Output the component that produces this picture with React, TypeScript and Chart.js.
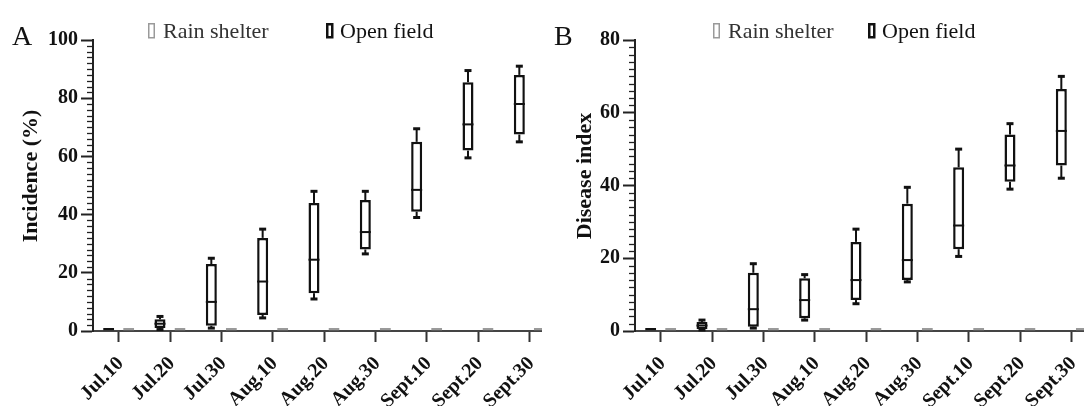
import React, { useEffect, useRef } from "react";
import { Chart, registerables } from "chart.js";

Chart.register(...registerables);

const categories = ["Jul.10", "Jul.20", "Jul.30", "Aug.10", "Aug.20", "Aug.30", "Sept.10", "Sept.20", "Sept.30"];
const yTicksA = [0, 20, 40, 60, 80, 100];
const yTicksB = [0, 20, 40, 60, 80];

// Panel A: Incidence (%), open field
const incOpenMin = [0, 0.5, 1, 4.5, 11, 26.5, 39, 59.5, 65];
const incOpenQ1 = [0, 1, 1.8, 5.5, 13, 28, 41, 62, 67.5];
const incOpenMed = [0, 2.5, 10, 17, 24.5, 34, 48.5, 71, 78];
const incOpenQ3 = [0, 4, 23, 32, 44, 45, 65, 85.5, 88];
const incOpenMax = [0, 5, 25, 35, 48, 48, 69.5, 89.5, 91];
// Panel A: rain shelter (all zero)
const incRain = [0, 0, 0, 0, 0, 0, 0, 0, 0];

// Panel B: Disease index, open field
const disOpenMin = [0, 0.3, 0.8, 3, 7.5, 13.5, 20.5, 39, 42];
const disOpenQ1 = [0, 0.5, 1.2, 3.5, 8.5, 14, 22.5, 41, 45.5];
const disOpenMed = [0, 1.5, 6, 8.5, 14, 19.5, 29, 45.5, 55];
const disOpenQ3 = [0, 2.5, 16, 14.5, 24.5, 35, 45, 54, 66.5];
const disOpenMax = [0, 3, 18.5, 15.5, 28, 39.5, 50, 57, 70];
// Panel B: rain shelter (all zero)
const disRain = [0, 0, 0, 0, 0, 0, 0, 0, 0];

const FONT = '"Liberation Serif", "Times New Roman", serif';
const BLACK = "#111111";
const GRAY = "#9a9a9a";
const CW = 560; // canvas width (panel is cropped at 542)
const PW = 542; // visible panel width
const H = 440;
const LEFT = 93;
const TOP = 40;
const BOTTOM = 331;

type Panel = {
  letter: string;
  title: string;
  yTicks: number[];
  min: number[]; q1: number[]; med: number[]; q3: number[]; max: number[];
  rain: number[];
  titleX: number;
  legendRainX: number;
  legendOpenX: number;
};

const panels: Panel[] = [
  {
    letter: "A", title: "Incidence (%)", yTicks: yTicksA,
    min: incOpenMin, q1: incOpenQ1, med: incOpenMed, q3: incOpenQ3, max: incOpenMax,
    rain: incRain, titleX: 37, legendRainX: 148, legendOpenX: 326,
  },
  {
    letter: "B", title: "Disease index", yTicks: yTicksB,
    min: disOpenMin, q1: disOpenQ1, med: disOpenMed, q3: disOpenQ3, max: disOpenMax,
    rain: disRain, titleX: 49, legendRainX: 171, legendOpenX: 326,
  },
];

function makeConfig(p: Panel): any {
  const yMax = p.yTicks[p.yTicks.length - 1];
  const boxPlugin = {
    id: "boxDecor" + p.letter,
    afterDatasetsDraw(chart: any) {
      const ctx = chart.ctx;
      const ys = chart.scales.y;
      chart.data.datasets.forEach((ds: any, d: number) => {
        const meta = chart.getDatasetMeta(d);
        meta.data.forEach((el: any, i: number) => {
          const x = el.x;
          const w = el.width;
          const q1 = ys.getPixelForValue(ds.data[i][0]);
          const q3 = ys.getPixelForValue(ds.data[i][1]);
          const lo = ys.getPixelForValue(ds.whiskerMin[i]);
          const hi = ys.getPixelForValue(ds.whiskerMax[i]);
          const md = ys.getPixelForValue(ds.median[i]);
          ctx.save();
          ctx.strokeStyle = ds.borderColor;
          ctx.lineCap = "butt";
          const cap = 3.5;
          if (hi < q3 - 0.5) {
            ctx.lineWidth = 2;
            ctx.beginPath(); ctx.moveTo(x, q3); ctx.lineTo(x, hi); ctx.stroke();
            ctx.lineWidth = 3;
            ctx.beginPath(); ctx.moveTo(x - cap, hi); ctx.lineTo(x + cap, hi); ctx.stroke();
          }
          if (lo > q1 + 0.5) {
            ctx.lineWidth = 2;
            ctx.beginPath(); ctx.moveTo(x, q1); ctx.lineTo(x, lo); ctx.stroke();
            ctx.lineWidth = 3;
            ctx.beginPath(); ctx.moveTo(x - cap, lo); ctx.lineTo(x + cap, lo); ctx.stroke();
          }
          if (q1 - q3 > 4) {
            ctx.lineWidth = 2;
            ctx.beginPath(); ctx.moveTo(x - w / 2, md); ctx.lineTo(x + w / 2, md); ctx.stroke();
          }
          ctx.restore();
        });
      });
    },
    afterDraw(chart: any) {
      const ctx = chart.ctx;
      const ys = chart.scales.y;
      const left = chart.chartArea.left;
      ctx.save();
      // minor ticks
      ctx.strokeStyle = "#222";
      ctx.lineWidth = 1.3;
      for (let v = 0; v <= yMax; v += 2) {
        if (v % 20 === 0) continue;
        const y = Math.round(ys.getPixelForValue(v)) + 0.5;
        ctx.beginPath(); ctx.moveTo(left - 6, y); ctx.lineTo(left, y); ctx.stroke();
      }
      // panel letter
      ctx.fillStyle = BLACK;
      ctx.font = `28px ${FONT}`;
      ctx.textAlign = "left";
      ctx.textBaseline = "alphabetic";
      ctx.fillText(p.letter, 12, 45);
      // legend
      ctx.font = `22px ${FONT}`;
      ctx.lineWidth = 1.5;
      ctx.strokeStyle = GRAY;
      ctx.strokeRect(p.legendRainX + 0.75, 23.75, 5.5, 14);
      ctx.fillStyle = "#333";
      ctx.fillText("Rain shelter", p.legendRainX + 15, 38);
      ctx.lineWidth = 2.5;
      ctx.strokeStyle = BLACK;
      ctx.strokeRect(p.legendOpenX + 1.25, 24.25, 5, 13);
      ctx.fillStyle = BLACK;
      ctx.fillText("Open field", p.legendOpenX + 14, 38);
      // y title
      ctx.font = `bold 22px ${FONT}`;
      ctx.translate(p.titleX, 176);
      ctx.rotate(-Math.PI / 2);
      ctx.textAlign = "center";
      ctx.textBaseline = "alphabetic";
      ctx.fillText(p.title, 0, 0);
      ctx.restore();
    },
  };

  const barCommon = {
    borderSkipped: false,
    minBarLength: 3,
    clip: false,
    categoryPercentage: 0.78,
    barPercentage: 0.55,
  };

  return {
    type: "bar",
    data: {
      labels: categories,
      datasets: [
        {
          label: "Open field",
          data: p.q1.map((v, i) => [v, p.q3[i]]),
          whiskerMin: p.min,
          whiskerMax: p.max,
          median: p.med,
          backgroundColor: "#ffffff",
          borderColor: BLACK,
          borderWidth: 2.5,
          ...barCommon,
        },
        {
          label: "Rain shelter",
          data: p.rain.map((v) => [v, v]),
          whiskerMin: p.rain,
          whiskerMax: p.rain,
          median: p.rain,
          backgroundColor: "#e0e0e0",
          borderColor: GRAY,
          borderWidth: 1.5,
          ...barCommon,
        },
      ],
    },
    options: {
      responsive: false,
      animation: false,
      events: [],
      layout: { padding: { left: 0, right: CW - 555, top: TOP, bottom: 0 } },
      plugins: { legend: { display: false }, tooltip: { enabled: false } },
      scales: {
        x: {
          type: "category",
          offset: true,
          afterFit: (s: any) => { s.height = H - BOTTOM; },
          border: { display: true, color: "#444", width: 2 },
          grid: { display: true, drawOnChartArea: false, drawTicks: true, tickLength: 11, tickWidth: 2, tickColor: "#333", offset: false },
          ticks: {
            autoSkip: false, minRotation: 45, maxRotation: 45, padding: 10, labelOffset: 2,
            color: BLACK, font: { family: FONT, size: 20, weight: "bold" },
          },
        },
        y: {
          min: 0,
          max: yMax,
          afterFit: (s: any) => { s.width = LEFT; },
          afterBuildTicks: (s: any) => { s.ticks = p.yTicks.map((v) => ({ value: v })); },
          border: { display: true, color: "#222", width: 2 },
          grid: { display: true, drawOnChartArea: false, drawTicks: true, tickLength: 12, tickWidth: 2, tickColor: "#222" },
          ticks: { padding: 3, color: BLACK, font: { family: FONT, size: 20, weight: "bold" } },
        },
      },
    },
    plugins: [boxPlugin],
  };
}

function PanelChart({ p }: { p: Panel }) {
  const ref = useRef<HTMLCanvasElement | null>(null);
  useEffect(() => {
    if (!ref.current) return;
    const chart = new Chart(ref.current, makeConfig(p));
    return () => chart.destroy();
  }, [p]);
  return (
    <div style={{ width: PW, height: 406, overflow: "hidden", flex: "0 0 auto" }}>
      <canvas ref={ref} width={CW} height={H} style={{ display: "block", width: CW, height: H }} />
    </div>
  );
}

export default function App() {
  useEffect(() => {
    document.body.style.margin = "0";
    document.body.style.overflow = "hidden";
  }, []);
  return (
    <div style={{ position: "fixed", left: 0, top: 0, width: 1084, height: 406, overflow: "hidden", background: "#fff", display: "flex" }}>
      {panels.map((p) => (
        <PanelChart key={p.letter} p={p} />
      ))}
    </div>
  );
}
